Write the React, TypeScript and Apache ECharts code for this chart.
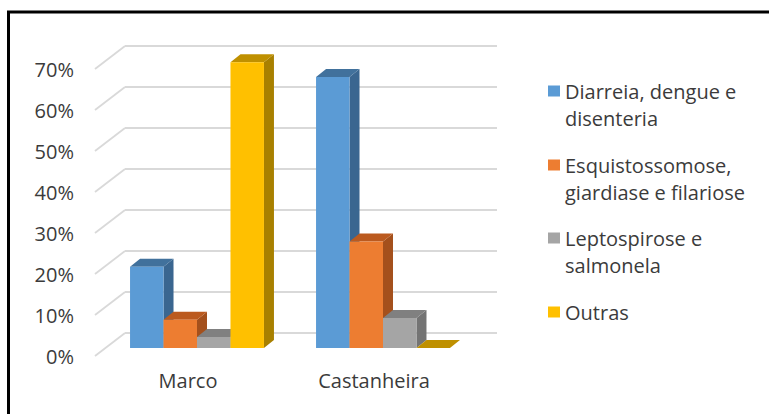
import React, { useEffect, useRef } from "react";
import * as echarts from "echarts";

const categories = ["Marco", "Castanheira"];
const seriesNames = [
  "Diarreia, dengue e\ndisenteria",
  "Esquistossomose,\ngiardiase e filariose",
  "Leptospirose e\nsalmonela",
  "Outras",
];
const diarreia = [19.8, 66.1];
const esquistossomose = [6.9, 26.0];
const leptospirose = [2.7, 7.3];
const outras = [69.7, 0];
const yTicks = [0, 10, 20, 30, 40, 50, 60, 70];

const seriesValues = [diarreia, esquistossomose, leptospirose, outras];
const frontColors = ["#5b9bd5", "#ed7d31", "#a5a5a5", "#ffc000"];
const topColors = ["#41719c", "#bb5a1f", "#808080", "#bf9000"];
const sideColors = ["#3a6690", "#a4501c", "#747474", "#a88000"];

const FONT = "'Open Sans', 'Noto Sans', sans-serif";
const TEXT_COLOR = "#3b3b3b";
const FS = 20;
const LH = 27;

// geometry of the pseudo-3D view
const BAR_OFF_X = 9;
const BAR_OFF_Y = -8;
const BAR_DX = 10;
const BAR_DY = -8;
const WALL_DX = 30;
const WALL_DY = -23;

function makeBarRender(si: number) {
  return (params: any, api: any) => {
    const ci = api.value(0);
    const v = api.value(1);
    const b = api.coord([ci, 0]);
    const t = api.coord([ci, v]);
    const band = api.size([1, 0])[0];
    const bw = band * 0.18;
    const x0 = b[0] - 2 * bw + si * bw + BAR_OFF_X;
    const yb = b[1] + BAR_OFF_Y;
    const yt = t[1] + BAR_OFF_Y;
    return {
      type: "group",
      children: [
        {
          type: "polygon",
          shape: {
            points: [
              [x0 + bw, yt],
              [x0 + bw + BAR_DX, yt + BAR_DY],
              [x0 + bw + BAR_DX, yb + BAR_DY],
              [x0 + bw, yb],
            ],
          },
          style: { fill: sideColors[si] },
        },
        {
          type: "polygon",
          shape: {
            points: [
              [x0, yt],
              [x0 + BAR_DX, yt + BAR_DY],
              [x0 + bw + BAR_DX, yt + BAR_DY],
              [x0 + bw, yt],
            ],
          },
          style: { fill: topColors[si] },
        },
        {
          type: "rect",
          shape: { x: x0, y: yt, width: bw, height: yb - yt },
          style: { fill: frontColors[si] },
        },
      ],
    };
  };
}

function wallRender(params: any, api: any) {
  const v = api.value(1);
  const p = api.coord([0, v]);
  const gx = params.coordSys.x;
  const gw = params.coordSys.width;
  const y = p[1];
  const style = { stroke: "#d9d9d9", lineWidth: 1.8 };
  return {
    type: "group",
    children: [
      {
        type: "line",
        shape: { x1: gx, y1: y, x2: gx + WALL_DX, y2: y + WALL_DY },
        style,
      },
      {
        type: "line",
        shape: { x1: gx + WALL_DX, y1: y + WALL_DY, x2: gx + WALL_DX + gw, y2: y + WALL_DY },
        style,
      },
    ],
  };
}

const legendIconCenters = [91, 165, 238, 312];

export default function App() {
  const ref = useRef<HTMLDivElement>(null);
  useEffect(() => {
    if (!ref.current) return;
    const chart = echarts.init(ref.current, undefined, { renderer: "svg" });

    const legends = seriesNames.map((name, i) => {
      const twoLine = name.indexOf("\n") >= 0;
      const top = twoLine ? legendIconCenters[i] - (3 * LH) / 2 : legendIconCenters[i] - LH / 2;
      return {
        show: true,
        left: 548,
        top,
        padding: 0,
        orient: "vertical",
        itemWidth: 12,
        itemHeight: 11,
        itemGap: 0,
        icon: "rect",
        selectedMode: false,
        data: [name],
        formatter: (n: string) => (twoLine ? "\n" + n : n),
        textStyle: {
          fontFamily: FONT,
          fontSize: FS,
          lineHeight: LH,
          color: TEXT_COLOR,
        },
        itemStyle: { borderWidth: 0 },
      };
    });

    const option: any = {
      animation: false,
      backgroundColor: "#ffffff",
      grid: { left: 95, top: 69, width: 372, height: 287, containLabel: false },
      legend: legends,
      graphic: [
        {
          type: "rect",
          shape: { x: 8.5, y: 12, width: 800, height: 450 },
          style: { fill: "none", stroke: "#000000", lineWidth: 3 },
          silent: true,
          z: 100,
        },
      ],
      xAxis: {
        type: "category",
        data: categories,
        axisLine: { show: false },
        axisTick: { show: false },
        axisLabel: {
          fontFamily: FONT,
          fontSize: FS,
          color: TEXT_COLOR,
          margin: 14,
        },
      },
      yAxis: {
        type: "value",
        min: 0,
        max: 70,
        interval: 10,
        axisLine: { show: false },
        axisTick: { show: false },
        splitLine: { show: false },
        axisLabel: {
          fontFamily: FONT,
          fontSize: FS,
          color: TEXT_COLOR,
          margin: 21,
          formatter: "{value}%",
        },
      },
      series: [
        {
          type: "custom",
          name: "wall",
          renderItem: wallRender,
          data: yTicks.map((t) => [0, t]),
          z: 1,
          silent: true,
          clip: false,
        },
        ...seriesNames.map((name, si) => ({
          type: "custom",
          name,
          renderItem: makeBarRender(si),
          itemStyle: { color: frontColors[si] },
          data: seriesValues[si].map((v, ci) => [ci, v]),
          z: 2,
          clip: false,
        })),
      ],
    };
    chart.setOption(option);
    return () => chart.dispose();
  }, []);

  return (
    <div
      ref={ref}
      style={{ position: "fixed", left: 0, top: 0, width: 769, height: 414, background: "#fff" }}
    />
  );
}
